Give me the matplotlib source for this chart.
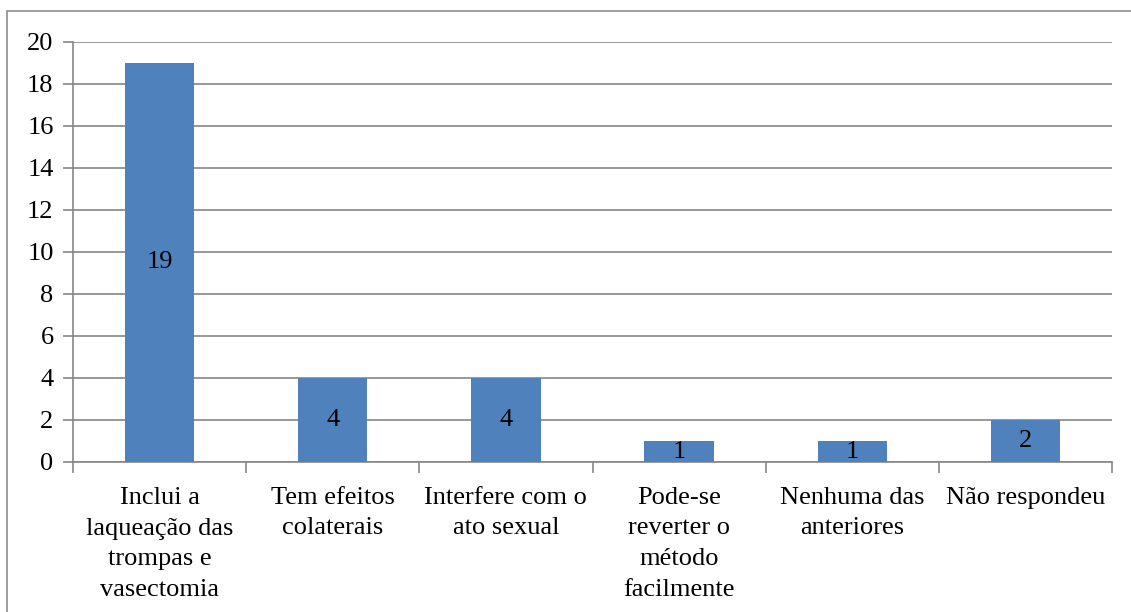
import numpy as np
import matplotlib.pyplot as plt
from matplotlib.patches import Rectangle

categories = [
    'Inclui a\nlaqueação das\ntrompas e\nvasectomia',
    'Tem efeitos\ncolaterais',
    'Interfere com o\nato sexual',
    'Pode-se\nreverter o\nmétodo\nfacilmente',
    'Nenhuma das\nanteriores',
    'Não respondeu',
]
values = [19, 4, 4, 1, 1, 2]
yticks = [0, 2, 4, 6, 8, 10, 12, 14, 16, 18, 20]

plt.rcParams['font.family'] = ['Liberation Serif', 'DejaVu Serif']
plt.rcParams['font.size'] = 19

W, H = 1131, 612
fig = plt.figure(figsize=(W / 100, H / 100), dpi=100)
ax = fig.add_axes([73 / W, 1 - 462 / H, (1112 - 73) / W, (462 - 42) / H])

# outer frame of the chart area
fig.patches.append(Rectangle((7 / W, -0.1), 1.2, 1 - 11 / H + 0.1,
                             transform=fig.transFigure, fill=False,
                             edgecolor='#8c8c8c', linewidth=1.2))

x = np.arange(len(categories))
ax.bar(x, values, width=0.4, color='#4F81BD', zorder=3)
for xi, v in zip(x, values):
    ax.text(xi, v / 2, str(v), ha='center', va='center', zorder=4,
            fontsize=19)

ax.set_xlim(-0.5, len(categories) - 0.5)
ax.set_ylim(0, 20)
ax.set_yticks(yticks)
ax.yaxis.grid(True, color='#868686', linewidth=1.2, zorder=0)

ax.set_xticks(x)
ax.set_xticklabels(categories, linespacing=1.5, va='top')
ax.set_xticks(np.arange(len(categories) + 1) - 0.5, minor=True)
ax.tick_params(axis='x', which='major', length=0, pad=18)
ax.tick_params(axis='x', which='minor', length=8, color='#868686', width=1.2)
ax.tick_params(axis='y', length=7, color='#868686', width=1.2, pad=7)

for side in ['top', 'right']:
    ax.spines[side].set_visible(False)
for side in ['left', 'bottom']:
    ax.spines[side].set_color('#868686')
    ax.spines[side].set_linewidth(1.2)

fig.savefig('out.png', dpi=100)
